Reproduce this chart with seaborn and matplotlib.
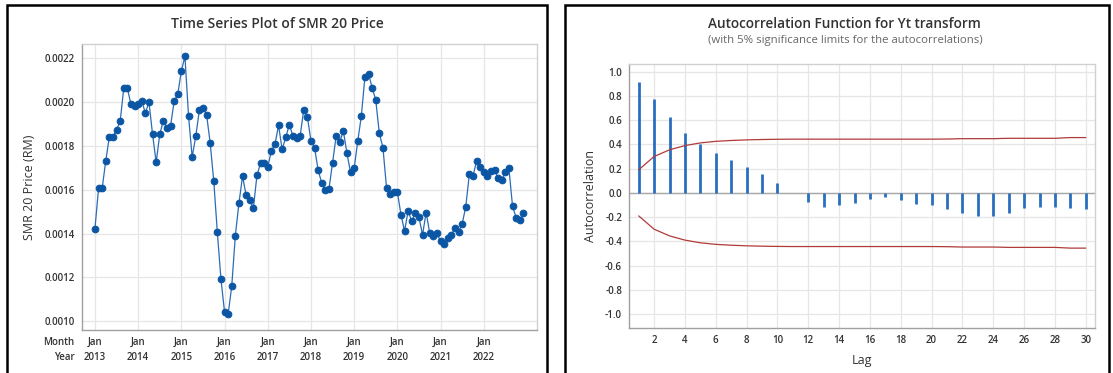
"""
plot.py - SMR 20 price time series and ACF of the transformed series
"""

import matplotlib.pyplot as plt
import numpy as np
import pandas as pd
import seaborn as sns
from matplotlib.patches import Rectangle

# monthly SMR 20 price, Jan 2013 - Dec 2022
price = [
    0.001423, 0.001606, 0.001606, 0.001732, 0.001841, 0.001841, 0.001873, 0.001912, 0.002063, 0.002063, 0.001990, 0.001984,
    0.001990, 0.002005, 0.001950, 0.002000, 0.001853, 0.001725, 0.001853, 0.001915, 0.001880, 0.001891, 0.002004, 0.002035,
    0.002142, 0.002208, 0.001936, 0.001749, 0.001844, 0.001962, 0.001972, 0.001943, 0.001815, 0.001641, 0.001405, 0.001192,
    0.001042, 0.001032, 0.001160, 0.001391, 0.001539, 0.001662, 0.001574, 0.001553, 0.001515, 0.001665, 0.001722, 0.001722,
    0.001703, 0.001778, 0.001807, 0.001894, 0.001784, 0.001839, 0.001897, 0.001845, 0.001837, 0.001845, 0.001965, 0.001933,
    0.001824, 0.001792, 0.001690, 0.001630, 0.001597, 0.001603, 0.001722, 0.001845, 0.001816, 0.001868, 0.001767, 0.001679,
    0.001697, 0.001821, 0.001936, 0.002116, 0.002128, 0.002066, 0.002010, 0.001857, 0.001792, 0.001609, 0.001579, 0.001589,
    0.001591, 0.001487, 0.001412, 0.001502, 0.001457, 0.001496, 0.001475, 0.001394, 0.001496, 0.001402, 0.001387, 0.001402,
    0.001364, 0.001352, 0.001379, 0.001393, 0.001426, 0.001408, 0.001443, 0.001522, 0.001670, 0.001661, 0.001731, 0.001706,
    0.001679, 0.001662, 0.001685, 0.001690, 0.001652, 0.001644, 0.001681, 0.001697, 0.001525, 0.001473, 0.001461, 0.001493,
]
years = [str(y) for y in range(2013, 2023)]

# autocorrelations of Yt transform, lags 1..30
lags = list(range(1, 31))
acf = [
    0.912, 0.775, 0.626, 0.497, 0.404, 0.330, 0.272, 0.214, 0.154, 0.085,
    -0.004, -0.077, -0.113, -0.104, -0.080, -0.047, -0.036, -0.063, -0.088, -0.104,
    -0.132, -0.168, -0.192, -0.192, -0.168, -0.129, -0.115, -0.115, -0.126, -0.137,
]
# upper 5% significance limit (lower one is the mirror)
limit = [
    0.190, 0.300, 0.355, 0.390, 0.412, 0.425, 0.432, 0.437, 0.440, 0.442,
    0.443, 0.443, 0.443, 0.443, 0.443, 0.443, 0.443, 0.443, 0.443, 0.443,
    0.444, 0.447, 0.447, 0.447, 0.450, 0.450, 0.450, 0.450, 0.456, 0.456,
]

sns.set_style("whitegrid")
plt.rcParams['font.family'] = ['Open Sans', 'DejaVu Sans']

W, H = 1113, 373
TXT = '#333333'
fig = plt.figure(figsize=(W / 100, H / 100), dpi=100)


def px_axes(left, top, right, bottom):
    return fig.add_axes([left / W, 1 - bottom / H, (right - left) / W, (bottom - top) / H])


def style(ax):
    for s in ax.spines.values():
        s.set_color('#a0a0a0')
        s.set_linewidth(1.0)
    ax.spines['top'].set_color('#d0d0d0')
    ax.spines['right'].set_color('#d0d0d0')
    ax.grid(True, color='#e6e6e6', linewidth=0.9)
    ax.tick_params(axis='both', length=3, width=0.8, color='#a0a0a0',
                   labelsize=7, labelcolor=TXT, pad=2)
    ax.set_axisbelow(True)


def bold_ticks(ax):
    for lab in ax.get_xticklabels() + ax.get_yticklabels():
        lab.set_fontweight('semibold')


# panel frames
for x0, x1 in [(7, 547), (565, 1109)]:
    fig.add_artist(Rectangle((x0 / W, -0.05), (x1 - x0) / W, 1.05 - 5 / H,
                             transform=fig.transFigure, fill=False,
                             edgecolor='black', linewidth=1.8))

# ---- time series plot
ax1 = px_axes(82, 44, 537, 330)
style(ax1)
df = pd.DataFrame({'month': np.arange(len(price)), 'price': price})
sns.lineplot(data=df, x='month', y='price', ax=ax1, color='#2b6cb6', linewidth=0.9,
             marker='o', markersize=4.8, markerfacecolor='#0b56a4',
             markeredgecolor='#0b56a4')
ax1.set_xlim(-3.6, 122.8)
ax1.set_ylim(0.00096, 0.002265)
ax1.set_yticks(np.arange(0.0010, 0.00221, 0.0002))
ax1.set_yticklabels([f'{v:.4f}' for v in np.arange(0.0010, 0.00221, 0.0002)])
ax1.set_xticks(np.arange(0, 120, 12))
ax1.set_xticklabels([f'Jan\n{y}' for y in years], linespacing=1.45)
bold_ticks(ax1)
ax1.set_xlabel('')
ax1.set_ylabel('SMR 20 Price (RM)', fontsize=9, color=TXT, labelpad=6)
ax1.text(-0.016, -0.026, 'Month\nYear', transform=ax1.transAxes, ha='right', va='top',
         fontsize=7, color=TXT, linespacing=1.45, fontweight='semibold')
fig.text(277 / W, 1 - 24 / H, 'Time Series Plot of SMR 20 Price', ha='center', va='center',
         fontsize=10, color=TXT, fontweight='semibold')

# ---- ACF plot
ax2 = px_axes(629, 64, 1095, 328)
style(ax2)
ax2.vlines(lags, 0, acf, color='#2a6fbf', linewidth=2.0)
lim_df = pd.DataFrame({'lag': lags, 'upper': limit, 'lower': [-v for v in limit]})
sns.lineplot(data=lim_df, x='lag', y='upper', ax=ax2, color='#b03a3a', linewidth=0.9)
sns.lineplot(data=lim_df, x='lag', y='lower', ax=ax2, color='#b03a3a', linewidth=0.9)
ax2.axhline(0, color='#a8a8a8', linewidth=1.0, zorder=1)
ax2.set_xlim(0.37, 30.6)
ax2.set_ylim(-1.115, 1.063)
ax2.set_xticks(range(2, 31, 2))
ax2.set_yticks(np.arange(-1.0, 1.01, 0.2))
ax2.set_yticklabels([f'{v:.1f}' if abs(v) > 1e-9 else '0.0' for v in np.arange(-1.0, 1.01, 0.2)])
bold_ticks(ax2)
ax2.set_xlabel('Lag', fontsize=9, color=TXT, labelpad=6)
ax2.set_ylabel('Autocorrelation', fontsize=9, color=TXT, labelpad=6)
fig.text(844 / W, 1 - 24 / H, 'Autocorrelation Function for Yt transform', ha='center',
         va='center', fontsize=9.8, color=TXT, fontweight='semibold')
fig.text(845 / W, 1 - 41 / H, '(with 5% significance limits for the autocorrelations)',
         ha='center', va='center', fontsize=8.2, color='#666666')

fig.savefig('out.png', dpi=100)
